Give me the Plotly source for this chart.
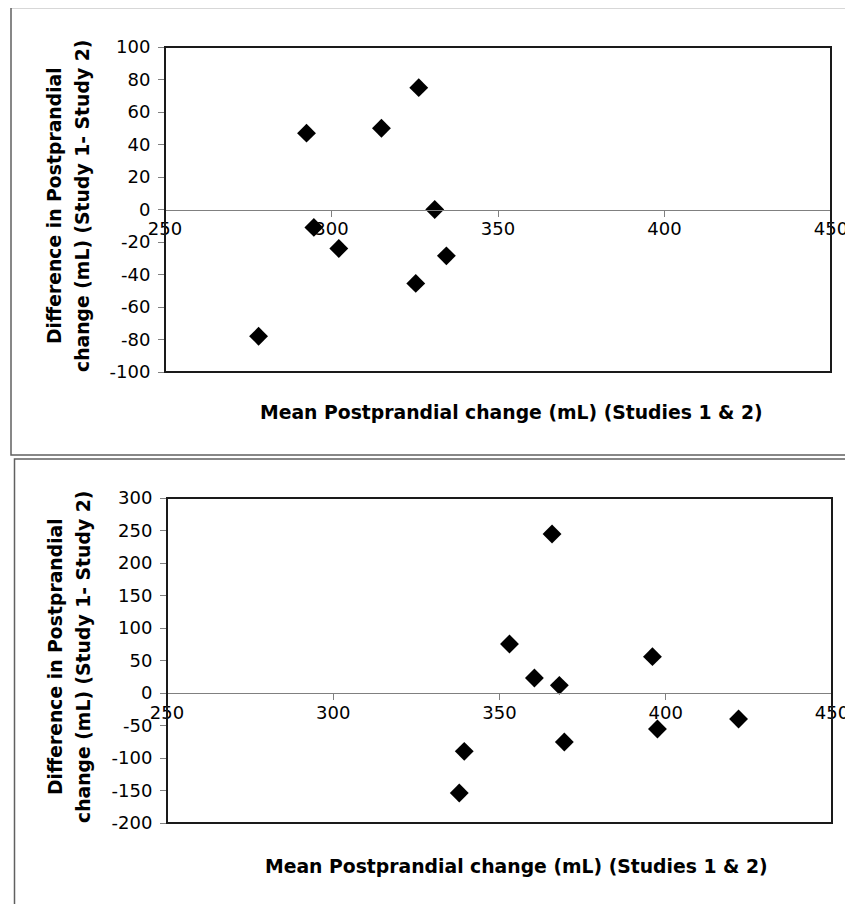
import plotly.graph_objects as go

# ---- data ----
top_x = [292.5, 315.0, 326.2, 331.0, 294.7, 302.2, 334.5, 325.3, 278.1]
top_y = [47, 50, 75, 0, -11, -24, -28.5, -45.5, -78]

bottom_x = [365.8, 353.0, 396.0, 360.5, 368.0, 421.9, 397.5, 369.5, 339.4, 337.9]
bottom_y = [244.6, 75.4, 55.9, 23.1, 11.8, -40, -55.4, -75.4, -89.7, -153.8]

x_ticks = [250, 300, 350, 400, 450]
top_y_ticks = [-100, -80, -60, -40, -20, 0, 20, 40, 60, 80, 100]
bottom_y_ticks = [-200, -150, -100, -50, 0, 50, 100, 150, 200, 250, 300]

x_title = "Mean Postprandial change (mL) (Studies 1 & 2)"
y_title_1 = "Difference in Postprandial"
y_title_2 = "change (mL) (Study 1- Study 2)"

# ---- layout geometry (page has an 8px body margin) ----
OFF = 8
W, H = 853 - OFF, 904 - OFF
def px_x(v):
    return (v - OFF) / W
def px_y(v):
    return 1 - (v - OFF) / H

top_xdom = [px_x(165), px_x(831)]
top_ydom = [px_y(372), px_y(47)]
bot_xdom = [px_x(167), px_x(832)]
bot_ydom = [px_y(823), px_y(498)]

def zero_pos(dom, rng):
    return dom[0] + (0 - rng[0]) / (rng[1] - rng[0]) * (dom[1] - dom[0])

top_yrange = [top_y_ticks[0], top_y_ticks[-1]]
bot_yrange = [bottom_y_ticks[0], bottom_y_ticks[-1]]
xrange_ = [x_ticks[0], x_ticks[-1]]

tick_font = dict(family="DejaVu Sans", size=18, color="#000000")
title_font = dict(family="DejaVu Sans", size=18.8, color="#000000")

fig = go.Figure()
marker = dict(symbol="diamond", size=14.5, color="#000000", line=dict(width=0))
fig.add_trace(go.Scatter(x=top_x, y=top_y, mode="markers", marker=marker,
                         xaxis="x", yaxis="y", showlegend=False, cliponaxis=False))
fig.add_trace(go.Scatter(x=bottom_x, y=bottom_y, mode="markers", marker=marker,
                         xaxis="x2", yaxis="y2", showlegend=False, cliponaxis=False))

def xaxis_cfg(dom, pos):
    return dict(domain=dom, range=xrange_, anchor="free", position=pos,
                tickvals=x_ticks, ticktext=[str(t) for t in x_ticks],
                showline=True, linecolor="#808080", linewidth=1,
                ticks="outside", ticklen=6, tickcolor="#808080", tickwidth=1,
                ticklabelstandoff=-3,
                showgrid=False, zeroline=False, tickfont=tick_font,
                automargin=False, fixedrange=True)

def yaxis_cfg(dom, rng, ticks, xname):
    return dict(domain=dom, range=rng, anchor=xname,
                tickvals=ticks, ticktext=[str(t) for t in ticks],
                showline=False, ticks="outside", ticklen=6,
                tickcolor="#808080", tickwidth=1, ticklabelstandoff=4,
                showgrid=False, zeroline=False, tickfont=tick_font,
                automargin=False, fixedrange=True)

fig.update_layout(
    template="none",
    width=W, height=H,
    autosize=False,
    margin=dict(l=0, r=0, t=0, b=0, pad=0, autoexpand=False),
    paper_bgcolor="white", plot_bgcolor="white",
    xaxis=xaxis_cfg(top_xdom, zero_pos(top_ydom, top_yrange)),
    yaxis=yaxis_cfg(top_ydom, top_yrange, top_y_ticks, "x"),
    xaxis2=xaxis_cfg(bot_xdom, zero_pos(bot_ydom, bot_yrange)),
    yaxis2=yaxis_cfg(bot_ydom, bot_yrange, bottom_y_ticks, "x2"),
)

shapes = []
# outer panel borders
shapes.append(dict(type="rect", xref="paper", yref="paper",
                   x0=px_x(11), x1=px_x(870), y0=px_y(455), y1=px_y(7.5),
                   line=dict(color="#606060", width=1.5), layer="below"))
shapes.append(dict(type="rect", xref="paper", yref="paper",
                   x0=px_x(14.5), x1=px_x(870), y0=px_y(930), y1=px_y(459),
                   line=dict(color="#606060", width=1.5), layer="below"))
# plot frames
for xa, ya in [("x", "y"), ("x2", "y2")]:
    shapes.append(dict(type="rect", xref=xa + " domain", yref=ya + " domain",
                       x0=0, x1=1, y0=0, y1=1,
                       line=dict(color="#1a1a1a", width=2)))
fig.update_layout(shapes=shapes)

annotations = []
for (tx, ty, cy) in [(px_x(511), px_y(412), px_y(206)), (px_x(516), px_y(866), px_y(657))]:
    annotations.append(dict(text=x_title, xref="paper", yref="paper", x=tx, y=ty,
                            xanchor="center", yanchor="middle", showarrow=False,
                            font=dict(title_font, weight="bold")))
    annotations.append(dict(text=y_title_1, xref="paper", yref="paper", x=px_x(55), y=cy,
                            xanchor="center", yanchor="middle", textangle=-90,
                            showarrow=False, font=dict(title_font, weight="bold")))
    annotations.append(dict(text=y_title_2, xref="paper", yref="paper", x=px_x(83), y=cy,
                            xanchor="center", yanchor="middle", textangle=-90,
                            showarrow=False, font=dict(title_font, weight="bold")))
fig.update_layout(annotations=annotations)

fig.write_html("out.html")
